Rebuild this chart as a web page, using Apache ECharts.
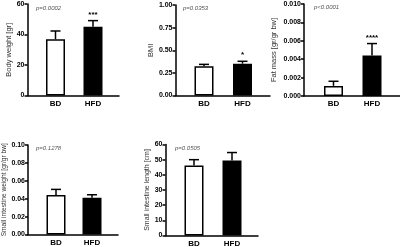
<!DOCTYPE html>
<html>
<head>
<meta charset="utf-8">
<script src="https://cdn.jsdelivr.net/npm/echarts@6/dist/echarts.min.js"></script>
<style>
  html, body { margin: 0; padding: 0; background: #fff; }
  #main { width: 400px; height: 247px; }
</style>
</head>
<body>
<div id="main"></div>
<script>
// groups
var cats = ['BD', 'HFD'];

// means and SD (upper error only)
var bodyWeight = [36.9, 45.1];
var bodyWeightSd = [5.4, 4.0];
var bmi = [0.322, 0.352];
var bmiSd = [0.022, 0.026];
var fatMass = [0.0011, 0.0044];
var fatMassSd = [0.0005, 0.0013];
var siWeight = [0.044, 0.041];
var siWeightSd = [0.0064, 0.0034];
var siLength = [46.2, 49.5];
var siLengthSd = [3.8, 5.2];

var pTexts = ['p=0.0002', 'p=0.0353', 'p<0.0001', 'p=0.1278', 'p=0.0505'];
var stars = [['', '***'], ['', '*'], ['', '****'], ['', ''], ['', '']];
var yNames = ['Body weight [gr]', 'BMI', 'Fat mass [gr/gr bw]',
  'Small intestine weight [gr/gr bw]', 'Small intestine length [cm]'];
var yMax = [60, 1, 0.01, 0.1, 60];
var yStep = [20, 0.25, 0.002, 0.02, 10];
var yDec = [0, 2, 3, 2, 0];

var means = [bodyWeight, bmi, fatMass, siWeight, siLength];
var sds = [bodyWeightSd, bmiSd, fatMassSd, siWeightSd, siLengthSd];

// panel layout in px: axis left, axis right end, top, bottom, bar centres, p text spot
var panels = [
  {l: 27.5, r: 119, t: 4, b: 95.5, c: [55.5, 93], px: 36, py: 9, gap: 13, fs: 7.5},
  {l: 175.5, r: 270, t: 5, b: 95.5, c: [204, 242.5], px: 183, py: 9, gap: 20, fs: 7.5},
  {l: 304, r: 400, t: 4, b: 96, c: [333.5, 372], px: 314, py: 8, gap: 26, fs: 7.5},
  {l: 28, r: 118, t: 145, b: 234.5, c: [56, 92], px: 36, py: 149, gap: 19.5, fs: 6.6},
  {l: 165.5, r: 258, t: 144.5, b: 235.5, c: [194, 232], px: 175, py: 149, gap: 12.5, fs: 7}
];

var font = 'Liberation Sans';
var grids = [], xAxes = [], yAxes = [], series = [], graphics = [];

panels.forEach(function (p, i) {
  var step = p.c[1] - p.c[0];
  var xmin = 1 - (p.c[0] - p.l) / step;
  var xmax = 1 + (p.r - p.c[0]) / step;

  grids.push({left: p.l, top: p.t, width: p.r - p.l, height: p.b - p.t, outerBoundsMode: 'none'});

  xAxes.push({
    gridIndex: i, type: 'value', min: xmin, max: xmax,
    axisLine: {show: true, lineStyle: {color: '#000', width: 1.5}},
    axisTick: {show: false},
    splitLine: {show: false},
    axisLabel: {
      customValues: [1, 2], margin: 4,
      color: '#000', fontFamily: font, fontWeight: 'bold', fontSize: 8,
      formatter: function (v) { return cats[Math.round(v) - 1]; }
    }
  });

  yAxes.push({
    gridIndex: i, type: 'value', min: 0, max: yMax[i], interval: yStep[i],
    name: yNames[i], nameLocation: 'middle', nameGap: p.gap,
    nameTextStyle: {color: '#333', fontFamily: font, fontSize: p.fs},
    axisLine: {show: true, lineStyle: {color: '#000', width: 1.5}},
    axisTick: {show: true, length: 3, lineStyle: {color: '#000', width: 1.5}},
    splitLine: {show: false},
    axisLabel: {
      margin: 3, color: '#000', fontFamily: font, fontWeight: 'bold', fontSize: 7,
      formatter: function (v) { return v.toFixed(yDec[i]); }
    }
  });

  series.push({
    type: 'bar', xAxisIndex: i, yAxisIndex: i, barWidth: 19,
    itemStyle: {borderColor: '#000', borderWidth: 1.5},
    data: cats.map(function (c, k) {
      return {value: [k + 1, means[i][k]], itemStyle: {color: k === 0 ? '#fff' : '#000'}};
    })
  });

  series.push({
    type: 'custom', xAxisIndex: i, yAxisIndex: i, z: 3,
    data: cats.map(function (c, k) {
      return [k + 1, means[i][k], means[i][k] + sds[i][k]];
    }),
    renderItem: function (params, api) {
      var a = api.coord([api.value(0), api.value(1)]);
      var b = api.coord([api.value(0), api.value(2)]);
      var st = {stroke: '#000', lineWidth: 1.5};
      return {
        type: 'group',
        children: [
          {type: 'line', shape: {x1: a[0], y1: a[1], x2: b[0], y2: b[1]}, style: st},
          {type: 'line', shape: {x1: b[0] - 5, y1: b[1], x2: b[0] + 5, y2: b[1]}, style: st},
          {type: 'text', style: {
            text: stars[i][params.dataIndex], x: b[0], y: b[1] - 2,
            textAlign: 'center', textVerticalAlign: 'bottom',
            font: 'bold 8px ' + font, fill: '#000'
          }}
        ]
      };
    }
  });

  graphics.push({
    type: 'text', left: p.px, top: p.py - 3.5,
    style: {text: pTexts[i], font: 'italic 6px ' + font, fill: '#555'}
  });
});

var myChart = echarts.init(document.getElementById('main'));
myChart.setOption({
  animation: false,
  grid: grids,
  xAxis: xAxes,
  yAxis: yAxes,
  series: series,
  graphic: graphics
});
</script>
</body>
</html>
